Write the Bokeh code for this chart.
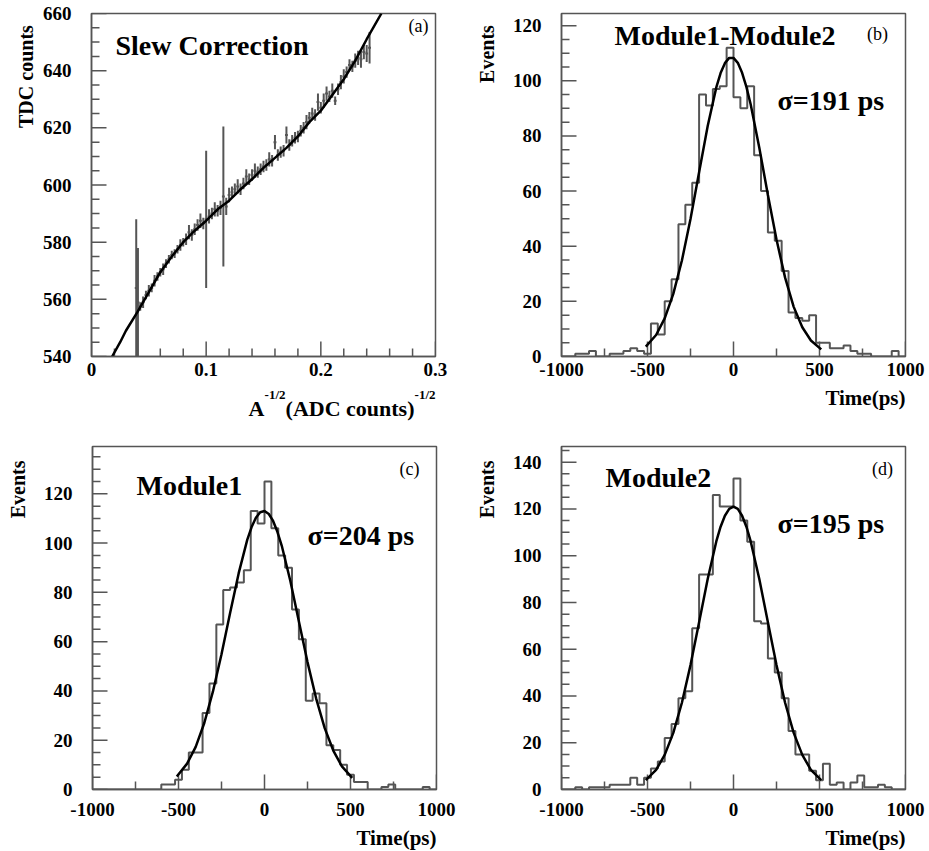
import math
from bokeh.plotting import figure
from bokeh.models import Range1d, SingleIntervalTicker, Label
from bokeh.layouts import column, row
from bokeh.embed import file_html
from bokeh.resources import INLINE

FONT = "Liberation Serif"
GRAY = "#555555"

# ---------------- Panel (a): slew correction profile ----------------
slew_x = [0.0390, 0.0405, 0.0425, 0.0450, 0.0475, 0.0500, 0.0525, 0.0550, 0.0575, 0.0600,
          0.0625, 0.0650, 0.0675, 0.0700, 0.0725, 0.0750, 0.0775, 0.0800, 0.0825, 0.0850,
          0.0875, 0.0900, 0.0925, 0.0950, 0.0975, 0.1000, 0.1025, 0.1050, 0.1075, 0.1100,
          0.1125, 0.1150, 0.1175, 0.1200, 0.1225, 0.1250, 0.1275, 0.1300, 0.1325, 0.1350,
          0.1375, 0.1400, 0.1425, 0.1450, 0.1475, 0.1500, 0.1525, 0.1550, 0.1575, 0.1600,
          0.1625, 0.1650, 0.1675, 0.1700, 0.1725, 0.1750, 0.1775, 0.1800, 0.1825, 0.1850,
          0.1875, 0.1900, 0.1925, 0.1950, 0.1975, 0.2000, 0.2025, 0.2050, 0.2075, 0.2100,
          0.2125, 0.2150, 0.2175, 0.2200, 0.2225, 0.2250, 0.2275, 0.2300, 0.2325, 0.2350,
          0.2375, 0.2400, 0.2425]
slew_y = [564, 559, 557.5, 559.0, 561.5, 563.0, 564.0, 566.5, 568.0, 569.5,
          570.5, 572.5, 574.0, 575.5, 576.0, 577.5, 579.0, 580.0, 581.0, 583.5,
          582.5, 584.5, 586.0, 587.5, 586.5, 588.0, 589.0, 590.0, 591.5, 591.0,
          592.0, 596.0, 592.5, 596.5, 597.5, 598.5, 599.5, 598.5, 600.5, 603.0,
          602.0, 603.5, 605.0, 604.5, 605.5, 606.5, 607.0, 609.0, 608.5, 615.0,
          610.5, 611.5, 612.0, 617.5, 614.0, 615.5, 616.5, 617.0, 619.0, 620.0,
          622.0, 623.5, 625.0, 624.5, 629.0, 627.0, 629.5, 632.0, 631.0, 633.0,
          629.5, 633.5, 636.0, 638.0, 639.5, 642.0, 641.5, 643.5, 644.5, 644.0,
          646.5, 646.0, 648.0]
slew_err = [24, 19, 1.5, 2, 1.5, 2, 1.5, 2, 1.5, 1.5,
            2, 1.5, 1.5, 1.5, 1.5, 1.5, 2, 1.5, 2, 2.5,
            2, 2, 2, 2.5, 2, 24, 2.5, 2, 2.5, 2,
            2.5, 24.5, 3, 2.5, 2, 2, 2.5, 2, 2, 2.5,
            2, 2, 2.5, 2, 2, 2, 2, 2.5, 2, 2.5,
            2, 2, 2, 3, 2, 2, 2, 2, 2, 2,
            2.5, 2, 2, 2, 3, 2, 2.5, 2.5, 2, 2.5,
            1.5, 2, 2.5, 2.5, 2, 2, 2, 2.5, 2.5, 3,
            2.5, 3, 5.5]
slew_bin_width = 0.0025
slew_fit_x = [0.018, 0.025, 0.03, 0.04, 0.05, 0.06, 0.07, 0.08, 0.09, 0.10, 0.11, 0.12, 0.13,
              0.14, 0.15, 0.16, 0.17, 0.18, 0.19, 0.20, 0.21, 0.22, 0.23, 0.24, 0.2528]
slew_fit_y = [540, 545, 549, 555.5, 562.5, 569.5, 575, 580, 584, 587.5, 591.5, 594.5, 598.5,
              602, 606, 609.5, 613, 617, 622, 626, 631.5, 637, 643.5, 651, 660]

# ---------------- Panels (b)-(d): time histograms ----------------
hist_start = -1000
hist_bin_width = 40
counts_b = [0, 0, 1, 1, 2, 0, 0, 1, 1, 2,
            3, 2, 1, 12, 8, 20, 28, 48, 55, 63,
            95, 91, 97, 98, 112, 94, 90, 98, 73, 60,
            45, 42, 31, 16, 14, 13, 15, 5, 5, 3,
            3, 4, 2, 1, 1, 0, 0, 0, 2, 0]
counts_c = [0, 0, 0, 0, 0, 0, 0, 0, 0, 0,
            2, 2, 4, 8, 15, 15, 31, 43, 67, 81,
            82, 84, 89, 113, 108, 125, 106, 95, 90, 73,
            61, 36, 39, 35, 18, 16, 10, 6, 3, 3,
            0, 0, 1, 2, 0, 0, 0, 0, 1, 0]
counts_d = [0, 0, 1, 0, 1, 1, 1, 2, 2, 2,
            5, 2, 5, 9, 12, 22, 28, 39, 42, 69,
            92, 92, 126, 121, 121, 133, 115, 106, 72, 71,
            56, 50, 39, 25, 15, 15, 8, 4, 11, 2,
            3, 0, 3, 6, 1, 1, 2, 1, 0, 0]

fit_x = [-510, -450, -400, -350, -300, -250, -200, -150, -100, -75, -50, -25, 0,
         25, 50, 75, 100, 150, 200, 250, 300, 350, 400, 450, 510]
fit_b = [3.6, 7.8, 13.8, 22.7, 34.8, 49.9, 66.8, 83.6, 97.6, 102.8, 106.4, 108.3, 108.3,
         106.5, 102.9, 97.8, 91.4, 75.7, 58.6, 42.4, 28.6, 18.0, 10.6, 5.8, 2.6]
fit_c = [5.3, 10.5, 17.3, 27.0, 39.7, 54.9, 71.6, 87.8, 101.4, 106.5, 110.3, 112.5, 113.0,
         111.8, 109.0, 104.6, 99.0, 84.7, 68.2, 51.7, 37.0, 24.9, 15.8, 9.4, 4.7]
fit_d = [4.0, 8.4, 14.8, 24.2, 37.1, 53.2, 71.5, 90.0, 106.1, 112.4, 117.1, 120.0, 121.0,
         120.0, 117.1, 112.4, 106.1, 90.0, 71.5, 53.2, 37.1, 24.2, 14.8, 8.4, 4.0]

sigma_b, sigma_c, sigma_d = 191, 204, 195

# ---------------- layout geometry (pixels) ----------------
FW, FH = 344, 343           # frame size of every panel
ROW1_TOP, ROW1_BOT = 13, 26
ROW2_TOP, ROW2_BOT = 16, 34
XSTRIP1_H, XSTRIP2_H = 48, 28
YSTRIP_A, YSTRIP_C, YSTRIP_M = 36, 37, 43
LEFT_A, LEFT_C, LEFT_BD = 55, 55, 62
MAJ_TICK, MIN_TICK = 15, 8


def style_axes(p, xt, yt, x_standoff, y_standoff=14):
    p.xgrid.visible = False
    p.ygrid.visible = False
    p.outline_line_color = GRAY
    p.outline_line_width = 1.5
    p.background_fill_color = "white"
    p.border_fill_color = "white"
    p.xaxis.ticker = xt
    p.yaxis.ticker = yt
    for ax in (p.xaxis[0], p.yaxis[0]):
        ax.axis_line_color = GRAY
        ax.axis_line_width = 1.5
        ax.major_tick_line_color = None
        ax.minor_tick_line_color = None
        ax.major_label_text_font = FONT
        ax.major_label_text_font_style = "bold"
        ax.major_label_text_font_size = "19px"
        ax.major_label_text_color = "black"
    p.xaxis.major_label_standoff = x_standoff
    p.yaxis.major_label_standoff = y_standoff


def add_ticks(p, xr, yr, xstep, xmaj_every, ystep, ymaj_every):
    """Inward ROOT-style ticks on the bottom and left frame edges."""
    dx = (xr[1] - xr[0]) / FW
    dy = (yr[1] - yr[0]) / FH
    x0s, y0s, x1s, y1s = [], [], [], []
    i = 0
    while xr[0] + i * xstep <= xr[1] + 1e-9:
        v = xr[0] + i * xstep
        L = MAJ_TICK if i % xmaj_every == 0 else MIN_TICK
        x0s.append(v); x1s.append(v); y0s.append(yr[0]); y1s.append(yr[0] + L * dy)
        i += 1
    i = 0
    while yr[0] + i * ystep <= yr[1] + 1e-9:
        v = yr[0] + i * ystep
        L = MAJ_TICK if i % ymaj_every == 0 else MIN_TICK
        x0s.append(xr[0]); x1s.append(xr[0] + L * dx); y0s.append(v); y1s.append(v)
        i += 1
    p.segment(x0=x0s, y0=y0s, x1=x1s, y1=y1s, line_color=GRAY, line_width=1.5)


def make_fig(xr, yr, bl, br, bt, bb):
    p = figure(width=bl + FW + br, height=bt + FH + bb,
               x_range=Range1d(*xr), y_range=Range1d(*yr),
               output_backend="svg", toolbar_location=None, tools="",
               min_border_left=bl, min_border_right=br,
               min_border_top=bt, min_border_bottom=bb)
    return p


def strip(w, h):
    s = figure(width=w, height=h, x_range=Range1d(0, w), y_range=Range1d(h, 0),
               output_backend="svg", toolbar_location=None, tools="",
               x_axis_type=None, y_axis_type=None,
               min_border_left=0, min_border_right=0, min_border_top=0, min_border_bottom=0)
    s.outline_line_color = None
    s.xgrid.visible = False
    s.ygrid.visible = False
    s.background_fill_color = "white"
    s.border_fill_color = "white"
    return s


def lab(target, x, y, text, size, align="left", baseline="middle", style="bold",
        angle=0.0, xo=0, yo=0):
    target.add_layout(Label(x=x, y=y, x_offset=xo, y_offset=yo, text=text, angle=angle,
                            text_font=FONT, text_font_style=style, text_font_size=size,
                            text_align=align, text_baseline=baseline, text_color="black"))


# ---------- (a) ----------
xr_a, yr_a = (0, 0.3000001), (540, 660)
pa = make_fig(xr_a, yr_a, LEFT_A, 21, ROW1_TOP, ROW1_BOT)
style_axes(pa, SingleIntervalTicker(interval=0.1, num_minor_ticks=5),
           SingleIntervalTicker(interval=20, num_minor_ticks=4), x_standoff=0)
pa.xaxis.major_label_overrides = {0: "0"}
add_ticks(pa, xr_a, yr_a, 0.02, 5, 5, 4)
lo = [y - e for y, e in zip(slew_y, slew_err)]
hi = [y + e for y, e in zip(slew_y, slew_err)]
pa.segment(x0=slew_x, y0=lo, x1=slew_x, y1=hi, line_color=GRAY, line_width=2)
pa.segment(x0=[x - slew_bin_width / 2 for x in slew_x], y0=slew_y,
           x1=[x + slew_bin_width / 2 for x in slew_x], y1=slew_y,
           line_color=GRAY, line_width=2)
pa.line(slew_fit_x, slew_fit_y, line_color="black", line_width=2.5)
lab(pa, xr_a[0], yr_a[1], "Slew Correction", "28px", xo=24, yo=-32)
lab(pa, xr_a[1], yr_a[1], "(a)", "18px", align="center", style="normal", xo=-17, yo=-12)


def hist_panel(counts, fit_y, ymax, bl, br, bt, bb, xstand, name, name_xo, name_yo,
               sigma, sig_xo, sig_yo, tag, tag_xo, tag_yo):
    xr, yr = (-1000, 1000), (0, ymax)
    p = make_fig(xr, yr, bl, br, bt, bb)
    style_axes(p, SingleIntervalTicker(interval=500, num_minor_ticks=2),
               SingleIntervalTicker(interval=20, num_minor_ticks=4), x_standoff=xstand)
    p.xaxis.major_label_overrides = {-1000: "-1000", -500: "-500"}
    add_ticks(p, xr, yr, 250, 2, 5, 4)
    edges = [hist_start + hist_bin_width * i for i in range(len(counts) + 1)]
    p.step(x=edges, y=counts + [counts[-1]], mode="after", line_color=GRAY, line_width=2)
    p.line(fit_x, fit_y, line_color="black", line_width=2.5)
    lab(p, xr[0], ymax, name, "28px", xo=name_xo, yo=name_yo)
    lab(p, xr[0], ymax, "\u03c3=%d ps" % sigma, "28px", xo=sig_xo, yo=sig_yo)
    lab(p, xr[1], ymax, tag, "18px", align="center", style="normal", xo=tag_xo, yo=tag_yo)
    return p


pb = hist_panel(counts_b, fit_b, 124.4, LEFT_BD, 20, ROW1_TOP, ROW1_BOT, 0,
                "Module1-Module2", 53, -22, sigma_b, 216, -87, "(b)", -28, -20)
pc = hist_panel(counts_c, fit_c, 139.2, LEFT_C, 20, ROW2_TOP, ROW2_BOT, 7,
                "Module1", 44, -39, sigma_c, 215, -89, "(c)", -27, -22)
pd = hist_panel(counts_d, fit_d, 146.7, LEFT_BD, 20, ROW2_TOP, ROW2_BOT, 7,
                "Module2", 44, -31, sigma_d, 216, -77, "(d)", -23, -22)

H1 = ROW1_TOP + FH + ROW1_BOT
H2 = ROW2_TOP + FH + ROW2_BOT
TOTAL_W = YSTRIP_A + pa.width + YSTRIP_M + pb.width

# ---------- y-axis titles (vertical, top-aligned with the frame) ----------
ys_a = strip(YSTRIP_A, H1)
lab(ys_a, 25, ROW1_TOP, "TDC counts", "20px", align="right", angle=math.pi / 2)
ys_b = strip(YSTRIP_M, H1)
lab(ys_b, 30, ROW1_TOP, "Events", "20px", align="right", angle=math.pi / 2)
ys_c = strip(YSTRIP_C, H2)
lab(ys_c, 17, ROW2_TOP, "Events", "20px", align="right", angle=math.pi / 2)
ys_d = strip(YSTRIP_M, H2)
lab(ys_d, 30, ROW2_TOP, "Events", "20px", align="right", angle=math.pi / 2)

# ---------- x-axis titles (right-aligned with the frame) ----------
a_right = YSTRIP_A + LEFT_A + FW
b_right = YSTRIP_A + pa.width + YSTRIP_M + LEFT_BD + FW
c_right = YSTRIP_C + LEFT_C + FW
xs_1 = strip(TOTAL_W, XSTRIP1_H)
lab(xs_1, a_right, 12, "-1/2", "13px", align="right", baseline="alphabetic")
lab(xs_1, a_right - 21, 26, "(ADC counts)", "22px", align="right", baseline="alphabetic")
lab(xs_1, a_right - 150, 12, "-1/2", "13px", align="right", baseline="alphabetic")
lab(xs_1, a_right - 171, 26, "A", "22px", align="right", baseline="alphabetic")
lab(xs_1, b_right, 15, "Time(ps)", "21px", align="right")
xs_2 = strip(TOTAL_W, XSTRIP2_H)
lab(xs_2, c_right, 14, "Time(ps)", "21px", align="right")
lab(xs_2, b_right, 14, "Time(ps)", "21px", align="right")

layout = column(row(ys_a, pa, ys_b, pb), xs_1, row(ys_c, pc, ys_d, pd), xs_2)
open("out.html", "w").write(file_html(layout, INLINE))
